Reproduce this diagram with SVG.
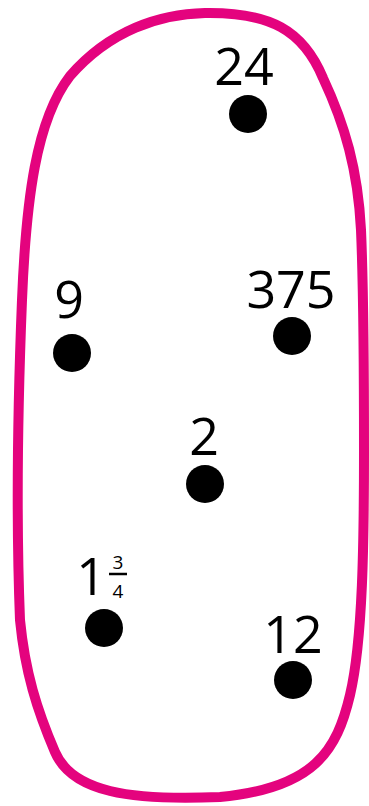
<svg xmlns="http://www.w3.org/2000/svg" width="369" height="806" viewBox="0 0 369 806">
  <style>
    .dot { fill: #000; }
    .lbl { font-family: "Open Sans", "Liberation Sans", sans-serif; fill: #000; text-anchor: middle; }
    .big { font-size: 52px; }
    .small { font-size: 19px; }
    .outline { fill: none; stroke: #E4037E; stroke-width: 10; stroke-linejoin: round; }
  </style>
  <rect width="369" height="806" fill="#fff"/>
  <g id="set-outline">
    <path class="outline" d="M 205,13 C 270,12 303,30 323,78 C 345,125 358,170 361,230 C 364,300 364,380 364,450 C 364,540 363,640 350,695 C 337,750 315,788 220,797 C 130,801 72,792 55,752 C 37,710 25,672 20,620 C 16,520 18,400 22,300 C 26,200 36,120 70,76 C 110,30 160,14 205,13 Z"/>
  </g>
  <g id="connectors"/>
  <g id="node-24">
    <text class="lbl big" x="244" y="85">24</text>
    <circle class="dot" cx="248" cy="114" r="19"/>
  </g>
  <g id="node-9">
    <text class="lbl big" x="69" y="318">9</text>
    <circle class="dot" cx="72" cy="353" r="19"/>
  </g>
  <g id="node-375">
    <text class="lbl big" x="291" y="308">375</text>
    <circle class="dot" cx="292" cy="336" r="19"/>
  </g>
  <g id="node-2">
    <text class="lbl big" x="204" y="455">2</text>
    <circle class="dot" cx="205" cy="484" r="19"/>
  </g>
  <g id="node-1-3-4">
    <text class="lbl big" x="91" y="595">1</text>
    <text class="lbl small" x="118" y="569">3</text>
    <line x1="109" y1="574" x2="127" y2="574" stroke="#000" stroke-width="2.5"/>
    <text class="lbl small" x="118" y="598">4</text>
    <circle class="dot" cx="104" cy="628" r="19"/>
  </g>
  <g id="node-12">
    <text class="lbl big" x="293" y="653">12</text>
    <circle class="dot" cx="293" cy="680" r="19"/>
  </g>
</svg>
